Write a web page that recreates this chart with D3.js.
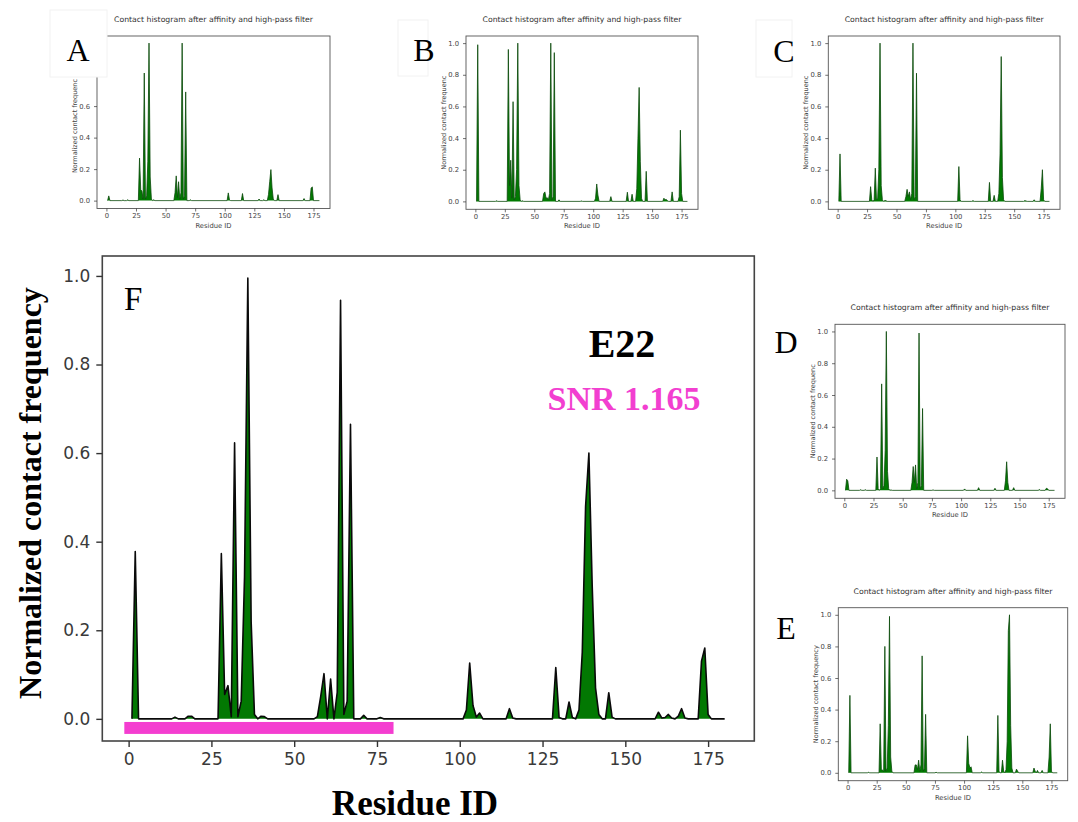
<!DOCTYPE html>
<html><head><meta charset="utf-8">
<script src="https://cdn.jsdelivr.net/npm/d3@7"></script>
<style>body{margin:0;background:#fff} svg{display:block}</style>
</head><body>
<svg id="c" width="1078" height="822"></svg>
<script>
// ---------- data ----------
const xTicks = [0, 25, 50, 75, 100, 125, 150, 175];
const yTicks = [0.0, 0.2, 0.4, 0.6, 0.8, 1.0];
const yTicksA = [0.0, 0.2, 0.4, 0.6];   // upper labels of panel A are hidden by its letter box
const xDomain = [-7.95, 188.95];
const yDomain = [-0.05, 1.045];
const panelTitle = "Contact histogram after affinity and high-pass filter";
const smallXLabel = "Residue ID";
const bigYLabel = "Normalized contact frequency";
const bigXLabel = "Residue ID";
const mutantName = "E22";
const snrText = "SNR 1.165";
const highlightResidues = [-1.3, 80];
const highlightBand = [-0.034, -0.007];

// [residue, normalized contact frequency]
const dataA = [[1,0],[2,0.03],[3,0],[13,0],[14,0.004],[15,0],[17,0],[18,0.005],[19,0],[27,0],[28,0.27],[29,0.07],[30,0.06],[31,0.01],[32,0.81],[33,0.01],[34,0.03],[35,0.25],[36,1.0],[37,0.15],[38,0.01],[39,0],[40,0.005],[41,0],[57,0],[58,0.05],[59,0.157],[60,0.02],[61,0.12],[62,0.01],[63,0.05],[64,1.0],[65,0.01],[66,0.03],[67,0.69],[68,0],[70,0],[71,0.005],[72,0],[102,0],[103,0.049],[104,0.005],[105,0],[114,0],[115,0.045],[116,0],[128,0],[129,0.01],[130,0],[132,0],[133,0.005],[134,0],[136,0],[137,0.04],[138,0.12],[139,0.197],[140,0.08],[141,0.01],[142,0],[144,0],[145,0.038],[146,0],[166,0],[167,0.013],[168,0],[172,0],[173,0.08],[174,0.087],[175,0],[180,0]];
const dataB = [[1,0],[2,0.99],[3,0],[17,0],[18,0.004],[19,0],[27,0],[28,0.96],[29,0.1],[30,0.26],[31,0.02],[32,0.63],[33,0.01],[34,0.03],[35,0.2],[36,1.0],[37,0.1],[38,0.01],[39,0],[40,0.004],[41,0],[57,0],[58,0.05],[59,0.06],[60,0.02],[61,0.023],[62,0.01],[63,0.05],[64,1.0],[65,0.01],[66,0.03],[67,0.94],[68,0],[70,0],[71,0.01],[72,0],[89,0],[90,0.003],[91,0],[101,0],[102,0.02],[103,0.11],[104,0.04],[105,0],[114,0],[115,0.03],[116,0],[128,0],[129,0.058],[130,0],[132,0],[133,0.045],[134,0],[136,0],[137,0.08],[138,0.4],[139,0.72],[140,0.25],[141,0.02],[142,0],[144,0],[145,0.19],[146,0],[159,0],[160,0.02],[161,0.01],[162,0.012],[163,0.005],[164,0],[166,0],[167,0.06],[168,0],[172,0],[173,0.03],[174,0.45],[175,0.05],[176,0],[180,0]];
const dataC = [[1,0],[2,0.30],[3,0],[27,0],[28,0.093],[29,0.01],[30,0],[31,0.01],[32,0.21],[33,0.01],[34,0.02],[35,0.2],[36,1.0],[37,0.1],[38,0.01],[39,0],[40,0.005],[41,0.005],[42,0],[57,0],[58,0.03],[59,0.076],[60,0.03],[61,0.06],[62,0.01],[63,0.05],[64,1.0],[65,0.01],[66,0.03],[67,0.81],[68,0],[102,0],[103,0.22],[104,0.01],[105,0],[114,0],[115,0.005],[116,0],[128,0],[129,0.12],[130,0],[132,0],[133,0.038],[134,0],[136,0],[137,0.05],[138,0.3],[139,0.915],[140,0.15],[141,0.01],[142,0],[158,0],[159,0.005],[160,0.003],[161,0],[166,0],[167,0.01],[168,0],[172,0],[173,0.08],[174,0.2],[175,0.01],[176,0],[180,0]];
const dataD = [[1,0],[2,0.07],[3,0.06],[4,0],[13,0],[14,0.004],[15,0],[17,0],[18,0.004],[19,0],[27,0],[28,0.21],[29,0.01],[30,0],[31,0.01],[32,0.67],[33,0.01],[34,0.03],[35,0.25],[36,1.0],[37,0.12],[38,0.01],[39,0],[40,0.003],[41,0],[57,0],[58,0.05],[59,0.15],[60,0.05],[61,0.16],[62,0.01],[63,0.05],[64,0.99],[65,0.01],[66,0.03],[67,0.515],[68,0],[75,0],[76,0.003],[77,0],[102,0],[103,0.009],[104,0],[114,0],[115,0.017],[116,0],[128,0],[129,0.013],[130,0],[137,0],[138,0.06],[139,0.18],[140,0.05],[141,0],[144,0],[145,0.017],[146,0],[166,0],[167,0.005],[168,0],[172,0],[173,0.013],[174,0.01],[175,0],[180,0]];
const dataE = [[1,0],[2,0.49],[3,0],[17,0],[18,0.003],[19,0],[27,0],[28,0.31],[29,0.02],[30,0.017],[31,0.01],[32,0.8],[33,0.01],[34,0.03],[35,0.3],[36,0.99],[37,0.1],[38,0.01],[39,0],[57,0],[58,0.05],[59,0.05],[60,0.02],[61,0.08],[62,0.01],[63,0.05],[64,0.74],[65,0.01],[66,0.03],[67,0.37],[68,0],[75,0],[76,0.003],[77,0],[102,0],[103,0.234],[104,0.06],[105,0.03],[106,0.038],[107,0],[114,0],[115,0.005],[116,0],[128,0],[129,0.363],[130,0.01],[131,0],[132,0],[133,0.08],[134,0.01],[135,0],[136,0.02],[137,0.2],[138,0.9],[139,1.0],[140,0.3],[141,0.03],[142,0],[144,0],[145,0.023],[146,0.01],[147,0],[159,0],[160,0.03],[161,0.01],[162,0],[163,0.015],[164,0],[166,0],[167,0.015],[168,0],[172,0],[173,0.1],[174,0.31],[175,0.01],[176,0],[180,0]];
const dataF = [[1,0],[2,0.378],[3,0],[13,0],[14,0.004],[15,0],[17,0],[18,0.006],[19,0.006],[20,0],[27,0],[28,0.373],[29,0.055],[30,0.075],[31,0.005],[32,0.623],[33,0.005],[34,0.04],[35,0.32],[36,0.995],[37,0.22],[38,0.01],[39,0],[40,0.006],[41,0.005],[42,0],[56,0],[57,0.005],[58,0.05],[59,0.102],[60,0],[61,0.09],[62,0],[63,0.06],[64,0.945],[65,0.01],[66,0.04],[67,0.665],[68,0],[70,0],[71,0.008],[72,0],[75,0],[76,0.003],[77,0],[101,0],[102,0.02],[103,0.126],[104,0.03],[105,0.004],[106,0.013],[107,0],[114,0],[115,0.023],[116,0.002],[117,0],[128,0],[129,0.116],[130,0.003],[131,0],[132,0],[133,0.038],[134,0.003],[135,0],[136,0.02],[137,0.15],[138,0.48],[139,0.6],[140,0.3],[141,0.07],[142,0.01],[143,0],[144,0],[145,0.059],[146,0.004],[147,0],[159,0],[160,0.015],[161,0.002],[162,0.003],[163,0.01],[164,0.002],[165,0],[166,0.006],[167,0.023],[168,0.002],[169,0],[172,0],[173,0.13],[174,0.16],[175,0.01],[176,0],[180,0]];

// ---------- layout ----------
const svg = d3.select("#c");
svg.append("rect").attr("width",1078).attr("height",822).attr("fill","#fff");

const SANS = "'DejaVu Sans', sans-serif";
const SERIF = "'Liberation Serif', 'Times New Roman', serif";

const smallPanels = [
  {data:dataA, l:97,  t:36,    r:330,    b:208.5, ylab:"Normalized contact frequenc", yt:yTicksA, ylabY:126},
  {data:dataB, l:466, t:36,    r:698,    b:209.3, ylab:"Normalized contact frequenc", yt:yTicks},
  {data:dataC, l:828.3,t:36,   r:1060,   b:209.3, ylab:"Normalized contact frequenc", yt:yTicks},
  {data:dataD, l:835, t:324.3, r:1065,   b:498.3, ylab:"Normalized contact frequenc", yt:yTicks},
  {data:dataE, l:838.3,t:607.7,r:1067.7, b:780.7, ylab:"Normalized contact frequency", yt:yTicks}
];

function drawCurve(g, data, x, y, fill, stroke, sw) {
  const area = d3.area().x(d => x(d[0])).y0(y(0)).y1(d => y(d[1]));
  const line = d3.line().x(d => x(d[0])).y(d => y(d[1]));
  g.append("path").datum(data).attr("d", area).attr("fill", fill);
  g.append("path").datum(data).attr("d", line).attr("fill","none")
    .attr("stroke", stroke).attr("stroke-width", sw).attr("stroke-linejoin","round");
}

function styleAxis(ax, fs, color, tickW) {
  ax.select(".domain").remove();
  ax.selectAll("line").attr("stroke", "#333").attr("stroke-width", tickW);
  ax.selectAll("text").attr("font-family", SANS).attr("font-size", fs).attr("fill", color);
}

smallPanels.forEach(p => {
  const g = svg.append("g");
  const x = d3.scaleLinear().domain(xDomain).range([p.l, p.r]);
  const y = d3.scaleLinear().domain(yDomain).range([p.b, p.t]);
  drawCurve(g, p.data, x, y, "#017a01", "#0b4a0b", 0.8);
  g.append("rect").attr("x",p.l).attr("y",p.t).attr("width",p.r-p.l).attr("height",p.b-p.t)
    .attr("fill","none").attr("stroke","#555").attr("stroke-width",0.9);
  const ax = g.append("g").attr("transform",`translate(0,${p.b})`)
    .call(d3.axisBottom(x).tickValues(xTicks).tickSize(3).tickPadding(1.5).tickFormat(d3.format("d")));
  styleAxis(ax, 6.8, "#444", 0.7);
  const ay = g.append("g").attr("transform",`translate(${p.l},0)`)
    .call(d3.axisLeft(y).tickValues(p.yt).tickSize(3).tickPadding(4).tickFormat(d3.format(".1f")));
  styleAxis(ay, 6.8, "#444", 0.7);
  const cx = (p.l + p.r) / 2;
  g.append("text").attr("x", cx).attr("y", p.t - 14).attr("text-anchor","middle")
    .attr("font-family", SANS).attr("font-size", 7.6).attr("fill","#333")
    .attr("textLength", 199).attr("lengthAdjust","spacingAndGlyphs").text(panelTitle);
  g.append("text").attr("x", cx).attr("y", p.b + 19).attr("text-anchor","middle")
    .attr("font-family", SANS).attr("font-size", 6.8).attr("fill","#444").text(smallXLabel);
  g.append("text").attr("transform",`translate(${p.l - 20},${p.ylabY || (p.t + p.b)/2}) rotate(-90)`)
    .attr("text-anchor","middle").attr("font-family", SANS).attr("font-size", 6.5)
    .attr("fill","#444").text(p.ylab);
});

// ---------- big panel F ----------
const F = {l:102.3, t:256, r:754.3, b:741};
const gF = svg.append("g");
const xF = d3.scaleLinear().domain(xDomain).range([F.l, F.r]);
const yF = d3.scaleLinear().domain(yDomain).range([F.b, F.t]);
drawCurve(gF, dataF, xF, yF, "#027802", "#0a0a0a", 1.6);
gF.append("rect")
  .attr("x", xF(highlightResidues[0])).attr("width", xF(highlightResidues[1]) - xF(highlightResidues[0]))
  .attr("y", yF(highlightBand[1])).attr("height", yF(highlightBand[0]) - yF(highlightBand[1]))
  .attr("fill", "#f43dd0");
gF.append("rect").attr("x",F.l).attr("y",F.t).attr("width",F.r-F.l).attr("height",F.b-F.t)
  .attr("fill","none").attr("stroke","#444").attr("stroke-width",1.6);
const axF = gF.append("g").attr("transform",`translate(0,${F.b})`)
  .call(d3.axisBottom(xF).tickValues(xTicks).tickSize(6).tickPadding(6).tickFormat(d3.format("d")));
styleAxis(axF, 17, "#3a3a3a", 1.4);
const ayF = gF.append("g").attr("transform",`translate(${F.l},0)`)
  .call(d3.axisLeft(yF).tickValues(yTicks).tickSize(6).tickPadding(6).tickFormat(d3.format(".1f")));
styleAxis(ayF, 17, "#3a3a3a", 1.4);

svg.append("text").attr("transform","translate(41,493) rotate(-90)").attr("text-anchor","middle")
  .attr("font-family", SERIF).attr("font-weight","bold").attr("font-size", 32).attr("fill","#000")
  .text(bigYLabel);
svg.append("text").attr("x", 415).attr("y", 815).attr("text-anchor","middle")
  .attr("font-family", SERIF).attr("font-weight","bold").attr("font-size", 35).attr("fill","#000")
  .text(bigXLabel);
svg.append("text").attr("x", 622).attr("y", 357).attr("text-anchor","middle")
  .attr("font-family", SERIF).attr("font-weight","bold").attr("font-size", 40).attr("fill","#000")
  .text(mutantName);
svg.append("text").attr("x", 624).attr("y", 410).attr("text-anchor","middle")
  .attr("font-family", SERIF).attr("font-weight","bold").attr("font-size", 34).attr("fill","#f23fd0")
  .text(snrText);

// ---------- panel letters ----------
const boxes = [[50,10,57,67],[398,20,30,56],[756,20,36,57]];
boxes.forEach(b => svg.append("rect").attr("x",b[0]).attr("y",b[1]).attr("width",b[2]).attr("height",b[3])
  .attr("fill","#fff").attr("stroke","#f2f2f2").attr("stroke-width",1));
const letters = [["A",78,61,"middle"],["B",424,61,"middle"],["C",784,62,"middle"],["D",786,353,"middle"],["E",786,639,"middle"],["F",124,310,"start"]];
letters.forEach(L => svg.append("text").attr("x",L[1]).attr("y",L[2]).attr("text-anchor",L[3])
  .attr("font-family", SERIF).attr("font-size", L[0]==="F" ? 33 : 32).attr("fill","#000").text(L[0]));
</script>
</body></html>
